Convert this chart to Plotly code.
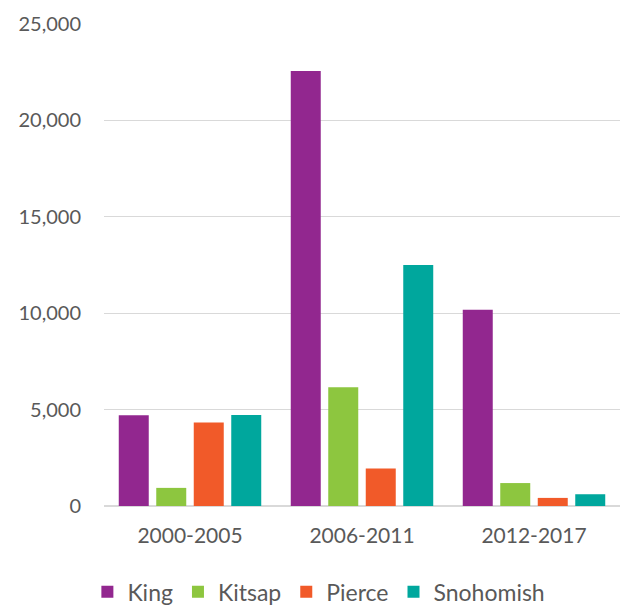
import plotly.graph_objects as go

categories = ["2000-2005", "2006-2011", "2012-2017"]
king = [4710, 22560, 10180]
kitsap = [940, 6160, 1190]
pierce = [4330, 1940, 420]
snohomish = [4720, 12500, 610]

series = [
    ("King", king, "#92278F"),
    ("Kitsap", kitsap, "#8DC63F"),
    ("Pierce", pierce, "#F15A29"),
    ("Snohomish", snohomish, "#00A79D"),
]

fig = go.Figure()
for name, vals, col in series:
    fig.add_trace(go.Bar(name=name, x=categories, y=vals, marker=dict(color=col, line=dict(width=0))))

font = "Lato, 'Open Sans', sans-serif"
# page body has an 8px default margin; size the figure to fit the visible window
fig.update_layout(
    width=623, height=597,
    margin=dict(l=96, r=11, t=16, b=99, autoexpand=False),
    paper_bgcolor="white", plot_bgcolor="white",
    barmode="group", bargap=0.128, bargroupgap=0.2,
    font=dict(family=font, size=18, color="#595959"),
    showlegend=True,
    legend=dict(orientation="h", xref="container", x=0.499, xanchor="center",
                yref="container", y=0.022, yanchor="middle",
                font=dict(size=23, color="#595959"), itemwidth=30,
                traceorder="normal"),
    yaxis=dict(range=[0, 25000], dtick=5000, tickformat=",d", showgrid=True,
               gridcolor="#d9d9d9", gridwidth=1.3, zeroline=True, zerolinecolor="#d9d9d9",
               zerolinewidth=2, ticks="", ticklabelstandoff=22, showline=False,
               automargin=False,
               tickfont=dict(size=20, color="#595959")),
    xaxis=dict(showline=False, ticks="", tickfont=dict(size=21, color="#595959"),
               ticklabelstandoff=15, automargin=False),
)
fig.write_html("out.html")
